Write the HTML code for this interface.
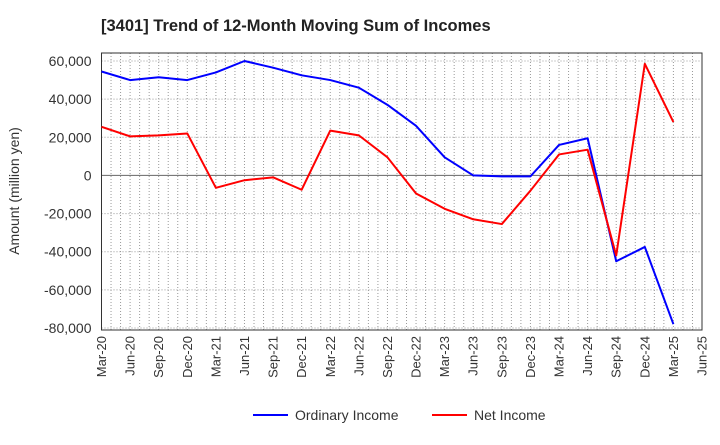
<!DOCTYPE html>
<html><head><meta charset="utf-8"><style>
body{margin:0;background:#fff;font-family:"Liberation Sans",sans-serif}
text{font-family:"Liberation Sans",sans-serif}
</style></head><body>
<svg id="c" width="720" height="440" xmlns="http://www.w3.org/2000/svg">
<text x="101" y="31" font-size="16.5" font-weight="bold" fill="#222">[3401]  Trend of 12-Month Moving Sum of Incomes</text>
<text transform="translate(19,191) rotate(-90)" text-anchor="middle" font-size="14" fill="#333">Amount (million yen)</text>
<g id="grid"></g><g id="axes"></g><g id="series"></g>
<g>
<line x1="253" y1="415" x2="288" y2="415" stroke="#0000ff" stroke-width="2"/>
<text x="295" y="420" font-size="14" fill="#333">Ordinary Income</text>
<line x1="432" y1="415" x2="467" y2="415" stroke="#ff0000" stroke-width="2"/>
<text x="474" y="420" font-size="14" fill="#333">Net Income</text>
</g>
</svg>
<script>
const categories=["Mar-20","Jun-20","Sep-20","Dec-20","Mar-21","Jun-21","Sep-21","Dec-21","Mar-22","Jun-22","Sep-22","Dec-22","Mar-23","Jun-23","Sep-23","Dec-23","Mar-24","Jun-24","Sep-24","Dec-24","Mar-25","Jun-25"];
const ordinaryIncome=[54500,50000,51500,50000,54000,60000,56500,52500,50000,46000,37000,26000,9500,0,-500,-500,16000,19500,-45000,-37500,-78000];
const netIncome=[25500,20500,21000,22000,-6500,-2500,-1000,-7500,23500,21000,9500,-9500,-17500,-23000,-25500,-8000,11000,13500,-42000,58500,28000];
const yTicks=[60000,40000,20000,0,-20000,-40000,-60000,-80000];
const NS="http://www.w3.org/2000/svg";
const L=101.5,R=702,T=53,B=330;
const yMin=-80000,yMax=60000,y0=328,y1=61;
function xs(i){return L+(R-L)*i/(categories.length-1);}
function ys(v){return y0+(v-yMin)/(yMax-yMin)*(y1-y0);}
function mk(tag,attrs,parent){const e=document.createElementNS(NS,tag);for(const k in attrs)e.setAttribute(k,attrs[k]);parent.appendChild(e);return e;}
const grid=document.getElementById('grid'),axes=document.getElementById('axes'),series=document.getElementById('series');
mk('rect',{x:L,y:T,width:R-L,height:B-T,fill:'#fff'},grid);
const months=(categories.length-1)*3;
for(let m=1;m<months;m++){const x=L+(R-L)*m/months;
const g=mk('line',{x1:x,y1:T,x2:x,y2:B,stroke:'#999','stroke-dasharray':'1,2','stroke-width':1},grid);

}
yTicks.forEach(v=>{const y=ys(v);
const g=mk('line',{x1:L,y1:y,x2:R,y2:y,stroke:v===0?'#666':'#999','stroke-dasharray':v===0?'none':'1,2','stroke-width':1},grid);


const t=mk('text',{x:L-10,y:y+5,'text-anchor':'end','font-size':14,fill:'#333'},axes);
t.textContent=v.toLocaleString('en-US');

});
categories.forEach((c,i)=>{const x=xs(i);
const t=mk('text',{transform:`translate(${x+4.5},${B+6}) rotate(-90)`,'text-anchor':'end','font-size':13,fill:'#333'},axes);
t.textContent=c;

});
const fr=mk('rect',{x:L,y:T,width:R-L,height:B-T,fill:'none',stroke:'#333','stroke-width':1},axes);


function line(data,color,name){const p=mk('polyline',{points:data.map((v,i)=>xs(i)+','+ys(v)).join(' '),fill:'none',stroke:color,'stroke-width':2,'stroke-linejoin':'round'},series);

}
line(ordinaryIncome,'#0000ff','ordinary-income-line');
line(netIncome,'#ff0000','net-income-line');
</script>
</body></html>
